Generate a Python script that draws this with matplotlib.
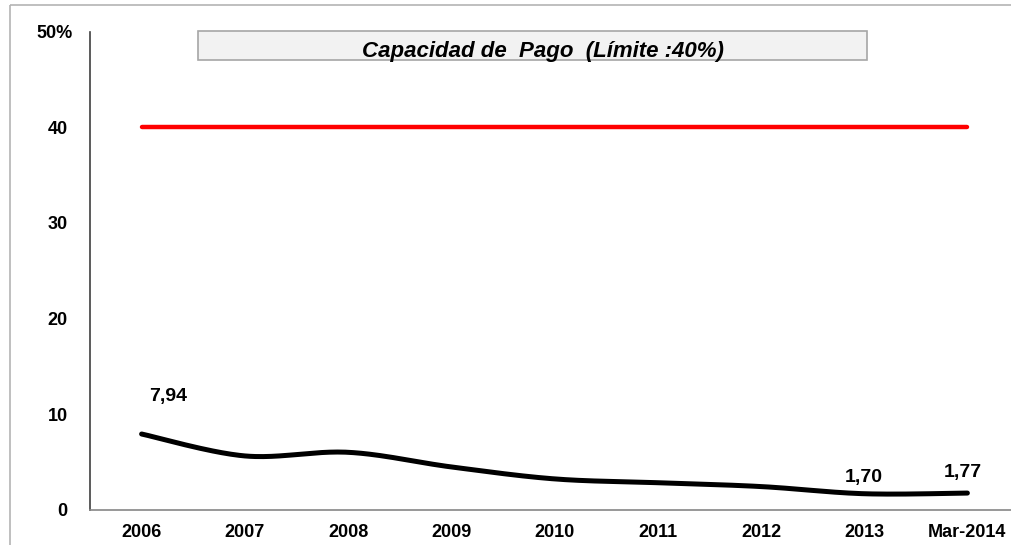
import numpy as np
import matplotlib
matplotlib.use("Agg")
import matplotlib.pyplot as plt
from matplotlib.patches import Rectangle
import matplotlib.transforms as mtransforms

plt.rcParams['font.family'] = ['Liberation Sans', 'DejaVu Sans']

categories = ["2006", "2007", "2008", "2009", "2010", "2011", "2012", "2013", "Mar-2014"]
capacidad = [7.94, 5.65, 6.03, 4.5, 3.25, 2.85, 2.45, 1.70, 1.77]
limite = [40] * len(categories)
labels = {0: "7,94", 7: "1,70", 8: "1,77"}
label_offsets = {0: (27, 38), 7: (0, 16), 8: (-5, 21)}
yticks = [0, 10, 20, 30, 40, 50]
yticklabels = ["0", "10", "20", "30", "40", "50%"]
title = "Capacidad de  Pago  (Límite :40%)"

W, H = 1011, 545
fig = plt.figure(figsize=(W / 100, H / 100), dpi=100)

# figure border
fig.patches.append(Rectangle((10 / W, 1 - 5 / H), 1.2, -1.2, transform=fig.transFigure,
                             fill=False, edgecolor="#b4b4b4", linewidth=1.2, zorder=0))

ax = fig.add_axes([90 / W, 1 - 510 / H, (1019 - 90) / W, (510 - 31.5) / H])
x = np.arange(len(categories))


def catmull(xs, ys, n=40):
    xs = np.asarray(xs, float)
    ys = np.asarray(ys, float)
    px = np.concatenate([[xs[0]], xs, [xs[-1]]])
    py = np.concatenate([[ys[0]], ys, [ys[-1]]])
    outx, outy = [], []
    t = np.linspace(0, 1, n)
    for i in range(1, len(px) - 2):
        p0 = np.array([px[i], py[i]])
        p3 = np.array([px[i + 1], py[i + 1]])
        p1 = p0 + (np.array([px[i + 1], py[i + 1]]) - np.array([px[i - 1], py[i - 1]])) / 6
        p2 = p3 - (np.array([px[i + 2], py[i + 2]]) - np.array([px[i], py[i]])) / 6
        b = ((1 - t) ** 3)[:, None] * p0 + (3 * (1 - t) ** 2 * t)[:, None] * p1 + \
            (3 * (1 - t) * t ** 2)[:, None] * p2 + (t ** 3)[:, None] * p3
        outx.extend(b[:, 0])
        outy.extend(b[:, 1])
    return np.array(outx), np.array(outy)


ax.plot(x, limite, color="#ff0000", lw=3.2, solid_capstyle="round", zorder=3)
sx, sy = catmull(x, capacidad)
ax.plot(sx, sy, color="black", lw=3.6, solid_capstyle="round", zorder=4)

for i, txt in labels.items():
    dx, dy = label_offsets[i]
    ax.annotate(txt, (x[i], capacidad[i]), xytext=(dx * 0.72, dy * 0.72), textcoords="offset points",
                ha="center", va="center", fontsize=14, fontweight="bold")

ax.set_xlim(-0.5, len(categories) - 0.5)
ax.set_ylim(0, 50)
ax.set_xticks(x)
ax.set_xticklabels(categories, fontsize=13, fontweight="bold")
ax.set_yticks(yticks)
ax.set_yticklabels(yticklabels, fontsize=13, fontweight="bold")
ax.tick_params(axis="x", length=0, pad=10)
ax.tick_params(axis="y", length=0, pad=16)
lbls = ax.get_yticklabels()
lbls[-1].set_transform(lbls[-1].get_transform() + mtransforms.ScaledTranslation(5 / 100, 0, fig.dpi_scale_trans))

for s in ["top", "right"]:
    ax.spines[s].set_visible(False)
ax.spines["left"].set_color("#404040")
ax.spines["left"].set_linewidth(1.2)
ax.spines["bottom"].set_color("#868686")
ax.spines["bottom"].set_linewidth(1.2)

# title box
fig.patches.append(Rectangle((198 / W, 1 - 60 / H), (867 - 198) / W, (60 - 31) / H, transform=fig.transFigure,
                             facecolor="#f2f2f2", edgecolor="#a6a6a6", linewidth=1.2, zorder=5))
fig.text(543 / W, 1 - 57 / H, title, ha="center", va="baseline", fontsize=16,
         fontweight="bold", fontstyle="italic", zorder=6)

fig.savefig("out.png", dpi=100)
